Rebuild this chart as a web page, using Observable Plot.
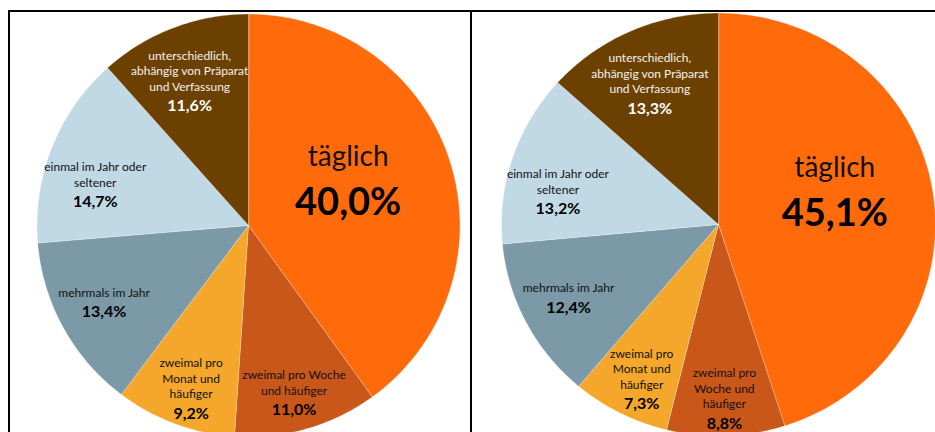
<!DOCTYPE html>
<html><head><meta charset="utf-8">
<script src="https://cdn.jsdelivr.net/npm/d3@7"></script>
<script src="https://cdn.jsdelivr.net/npm/@observablehq/plot@0.6"></script>
<style>
html,body{margin:0;padding:0;background:#fff;width:935px;height:432px;overflow:hidden;}
.box{position:absolute;top:10px;border-top:2px solid #000;overflow:hidden;height:430px;}
#left{left:8px;width:460px;border-left:2px solid #000;border-right:2px solid #000;}
#right{left:472px;width:463px;}
svg{display:block;}
</style></head><body>
<div id="left" class="box"></div><div id="right" class="box"></div>
<script>
const categories = ["täglich", "zweimal pro Woche und häufiger", "zweimal pro Monat und häufiger", "mehrmals im Jahr", "einmal im Jahr oder seltener", "unterschiedlich, abhängig von Präparat und Verfassung"];
const leftLabels = ["täglich", "zweimal pro Woche\nund häufiger", "zweimal pro\nMonat und\nhäufiger", "mehrmals im Jahr", "einmal im Jahr oder\nseltener", "unterschiedlich,\nabhängig von Präparat\nund Verfassung"];
const rightLabels = ["täglich", "zweimal pro\nWoche und\nhäufiger", "zweimal pro\nMonat und\nhäufiger", "mehrmals im Jahr", "einmal im Jahr oder\nseltener", "unterschiedlich,\nabhängig von Präparat\nund Verfassung"];
const leftValues = [40.0, 11.0, 9.2, 13.4, 14.7, 11.6];
const rightValues = [45.1, 8.8, 7.3, 12.4, 13.2, 13.3];
const sliceColors = ["#FF6A0B", "#C9571A", "#F4A72B", "#7B99A7", "#C0D9E5", "#6C4100"];

const fmt = v => v.toFixed(1).replace(".", ",") + "%";

function drawPie(values, labels, geom) {
  const rows = categories.map((c, i) => ({key: c, label: labels[i], value: values[i], color: sliceColors[i]}));
  const arcs = d3.pie().sort(null).value(d => d.value)(rows);
  const maxV = d3.max(values);
  const pts = [];
  const lab = [];
  for (const a of arcs) {
    const d = a.data;
    const sweep = a.endAngle - a.startAngle;
    const steps = Math.max(2, Math.ceil(sweep / (Math.PI / 180)));
    pts.push({key: d.key, color: d.color, x: 0, y: 0});
    for (let k = 0; k <= steps; ++k) {
      const t = a.startAngle + sweep * k / steps;
      pts.push({key: d.key, color: d.color, x: Math.sin(t), y: Math.cos(t)});
    }
    const big = d.value === maxV;
    const dark = d3.lab(d.color).l < 40;
    let lx, ly;
    if (big) {
      const ang = a.startAngle + 0.45 * sweep;
      const f = 0.2 + 0.8 * sweep / (2 * Math.PI);
      lx = f * Math.sin(ang); ly = f * Math.cos(ang);
    } else {
      const mid = (a.startAngle + a.endAngle) / 2;
      const s = Math.sin(mid);
      const g = 1 - 0.25 * s * s * s * s;
      lx = 0.78 * s; ly = 0.78 * Math.cos(mid) * g;
    }
    lab.push({
      big, lx, ly,
      name: d.label, n: d.label.split("\n").length, pct: fmt(d.value),
      nameInk: dark ? "#f2f2f2" : "#111111", pctInk: dark ? "#ffffff" : "#000000"
    });
  }
  const small = lab.filter(d => !d.big);
  const bigL = lab.filter(d => d.big);
  const {width, height, cx, cy, rx, ry} = geom;
  return Plot.plot({
    width, height, margin: 0,
    x: {domain: [-1, 1], range: [cx - rx, cx + rx], axis: null},
    y: {domain: [-1, 1], range: [cy + ry, cy - ry], axis: null},
    color: {type: "identity"},
    style: {fontFamily: "Lato, 'Open Sans', sans-serif", background: "transparent", overflow: "hidden"},
    marks: [
      Plot.line(pts, {x: "x", y: "y", z: "key", fill: "color", stroke: "#ffffff", strokeWidth: 0.6, strokeOpacity: 0.5, curve: "linear-closed"}),
      Plot.text(small, {x: "lx", y: "ly", text: d => d.name + "\n ", fill: d => d.nameInk, fontSize: 12, lineHeight: 15.5 / 12, dy: 6}),
      Plot.text(small, {x: "lx", y: "ly", text: d => "\n".repeat(d.n) + d.pct, fill: d => d.pctInk, fontSize: 16, fontWeight: "bold", lineHeight: 15.5 / 16, dy: 11}),
      Plot.text(bigL, {x: "lx", y: "ly", text: "name", fill: "#111", fontSize: 28, dy: -22}),
      Plot.text(bigL, {x: "lx", y: "ly", text: "pct", fill: "#000", fontSize: 38, fontWeight: "bold", dy: 24})
    ]
  });
}

document.getElementById("left").append(drawPie(leftValues, leftLabels, {width: 460, height: 420, cx: 238, cy: 213, rx: 211.5, ry: 211.5}));
document.getElementById("right").append(drawPie(rightValues, rightLabels, {width: 463, height: 420, cx: 246, cy: 212, rx: 217, ry: 211.5}));
</script>
</body></html>
